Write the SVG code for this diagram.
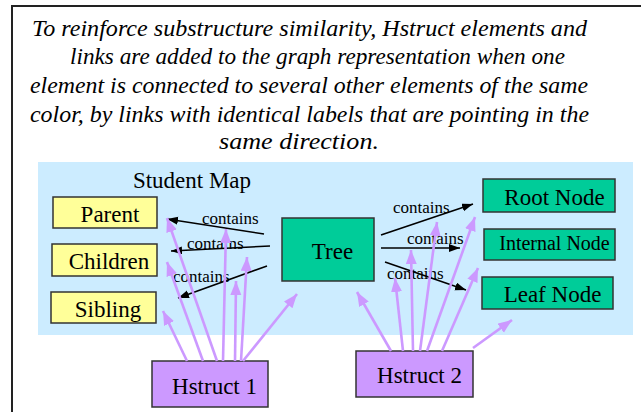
<svg xmlns="http://www.w3.org/2000/svg" width="641" height="412" viewBox="0 0 641 412">
  <style>
    text { font-family: 'Liberation Serif', 'DejaVu Serif', 'Times New Roman', serif; fill: #000; }
    .caption { font-style: italic; font-size: 24px; text-anchor: middle; }
    .title { font-size: 23px; text-anchor: middle; }
    .label { font-size: 23px; text-anchor: middle; }
    .small { font-size: 20px; }
    .edge-label { font-size: 17px; }
    .box { stroke: #333; stroke-width: 1.5; }
    .yellow { fill: #FFFF99; }
    .green { fill: #00CC99; }
    .purple { fill: #CC99FF; }
    .link { stroke: #000; stroke-width: 1.6; fill: none; marker-end: url(#headBlack); }
    .hlink { stroke: #CC99FF; stroke-width: 2.6; fill: none; marker-end: url(#headPurple); }
  </style>
  <defs>
    <marker id="headBlack" markerUnits="userSpaceOnUse" markerWidth="12" markerHeight="10" refX="11" refY="4" orient="auto">
      <path d="M0,0 L11,4 L0,8 Z" fill="#000"/>
    </marker>
    <marker id="headPurple" markerUnits="userSpaceOnUse" markerWidth="15" markerHeight="12" refX="14" refY="5.5" orient="auto">
      <path d="M0,0 L14,5.5 L0,11 Z" fill="#CC99FF"/>
    </marker>
  </defs>

  <!-- page -->
  <rect x="0" y="0" width="641" height="412" fill="#fff"/>
  <rect x="12" y="6" width="660" height="440" fill="none" stroke="#222" stroke-width="2"/>

  <!-- caption -->
  <g id="caption">
    <text class="caption" x="309.5" y="36" textLength="555" lengthAdjust="spacingAndGlyphs">To reinforce substructure similarity, Hstruct elements and</text>
    <text class="caption" x="317.5" y="64" textLength="495" lengthAdjust="spacingAndGlyphs">links are added to the graph representation when one</text>
    <text class="caption" x="309" y="93" textLength="558" lengthAdjust="spacingAndGlyphs">element is connected to several other elements of the same</text>
    <text class="caption" x="309.5" y="122" textLength="559" lengthAdjust="spacingAndGlyphs">color, by links with identical labels that are pointing in the</text>
    <text class="caption" x="299" y="149" textLength="160" lengthAdjust="spacingAndGlyphs">same direction.</text>
  </g>

  <!-- student map area -->
  <g id="map">
    <rect x="38" y="162" width="595" height="173" fill="#CCECFF"/>
    <text class="title" x="192" y="188">Student Map</text>
  </g>

  <g id="parent">
    <rect class="box yellow" x="53" y="197" width="104" height="31"/>
    <text class="label" x="110" y="222">Parent</text>
  </g>
  <g id="children">
    <rect class="box yellow" x="52" y="244" width="105" height="32"/>
    <text class="label" x="109" y="269">Children</text>
  </g>
  <g id="sibling">
    <rect class="box yellow" x="51" y="292" width="105" height="31"/>
    <text class="label" x="108" y="317">Sibling</text>
  </g>
  <g id="tree">
    <rect class="box green" x="282" y="218" width="92" height="63"/>
    <text class="label" x="332.5" y="259">Tree</text>
  </g>
  <g id="root-node">
    <rect class="box green" x="483" y="179" width="132" height="33"/>
    <text class="label" x="554.5" y="205">Root Node</text>
  </g>
  <g id="internal-node">
    <rect class="box green" x="484" y="229" width="131" height="31"/>
    <text class="label small" x="554.5" y="250">Internal Node</text>
  </g>
  <g id="leaf-node">
    <rect class="box green" x="482" y="277" width="131" height="32"/>
    <text class="label" x="552.5" y="302">Leaf Node</text>
  </g>
  <g id="hstruct-1">
    <rect class="box purple" x="152" y="361" width="116" height="46"/>
    <text class="label" x="214.5" y="394">Hstruct 1</text>
  </g>
  <g id="hstruct-2">
    <rect class="box purple" x="356" y="351" width="117" height="46"/>
    <text class="label" x="419.5" y="383">Hstruct 2</text>
  </g>

  <!-- connectors -->
  <g id="connectors">
    <!-- contains links -->
    <line class="link" x1="264" y1="234" x2="167" y2="219"/>
    <line class="link" x1="270" y1="246" x2="171" y2="251"/>
    <line class="link" x1="267" y1="266" x2="178" y2="298"/>
    <line class="link" x1="381" y1="235" x2="473" y2="204"/>
    <line class="link" x1="381" y1="248" x2="460" y2="248"/>
    <line class="link" x1="385" y1="262" x2="466" y2="290"/>
    <text class="edge-label" x="202" y="224">contains</text>
    <text class="edge-label" x="187" y="249">contains</text>
    <text class="edge-label" x="173" y="282">contains</text>
    <text class="edge-label" x="393" y="213">contains</text>
    <text class="edge-label" x="407" y="244">contains</text>
    <text class="edge-label" x="387" y="279">contains</text>

    <!-- Hstruct 1 links -->
    <line class="hlink" x1="187" y1="361" x2="163" y2="311"/>
    <line class="hlink" x1="203" y1="361" x2="167" y2="262"/>
    <line class="hlink" x1="217" y1="361" x2="167" y2="218"/>
    <line class="hlink" x1="223" y1="361" x2="226" y2="229"/>
    <line class="hlink" x1="235" y1="361" x2="236" y2="281"/>
    <line class="hlink" x1="241" y1="361" x2="247" y2="257"/>
    <line class="hlink" x1="243" y1="361" x2="297" y2="294"/>

    <!-- Hstruct 2 links -->
    <line class="hlink" x1="391" y1="351" x2="357" y2="292"/>
    <line class="hlink" x1="403" y1="351" x2="395" y2="278"/>
    <line class="hlink" x1="413" y1="351" x2="411" y2="250"/>
    <line class="hlink" x1="420" y1="351" x2="437" y2="222"/>
    <line class="hlink" x1="427" y1="351" x2="475" y2="217"/>
    <line class="hlink" x1="442" y1="351" x2="478" y2="268"/>
    <line class="hlink" x1="473" y1="348" x2="512" y2="320"/>
  </g>
</svg>
